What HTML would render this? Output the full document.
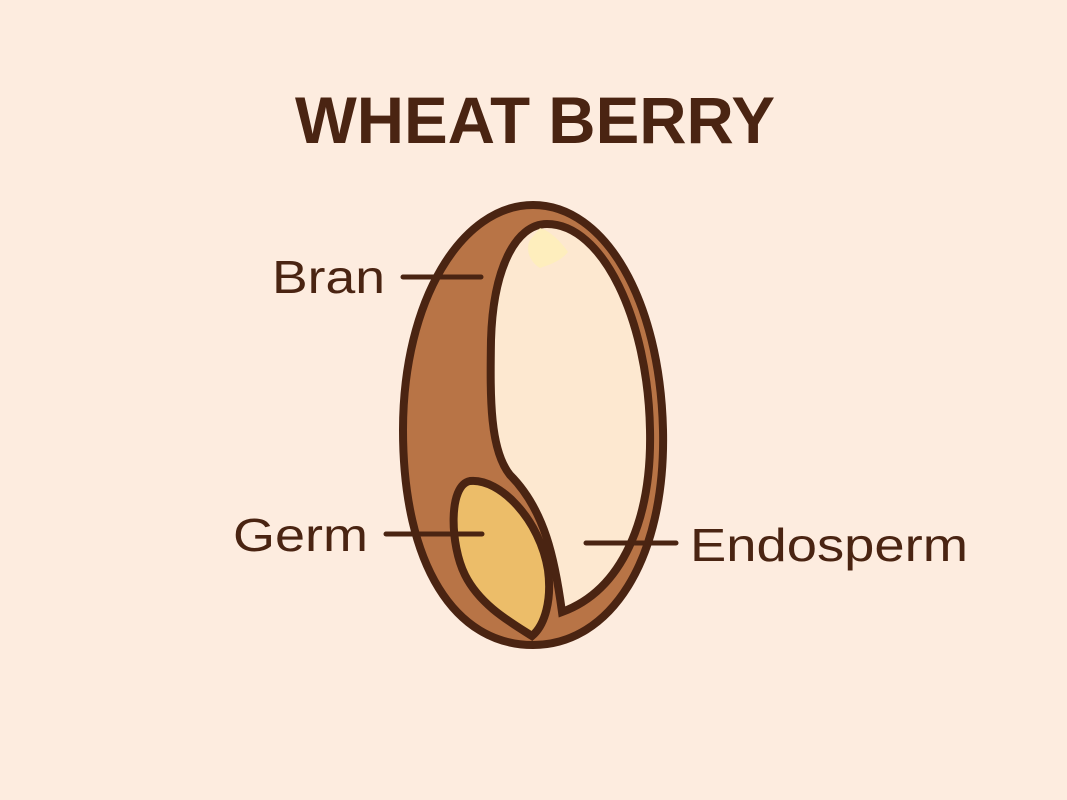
<!DOCTYPE html>
<html><head><style>
html,body{margin:0;padding:0;background:#fdecdf;}
svg{display:block}
</style></head><body>
<svg width="1067" height="800" viewBox="0 0 1067 800" xmlns="http://www.w3.org/2000/svg">
<rect width="1067" height="800" fill="#fdecdf"/>
<text x="295" y="143" textLength="480" lengthAdjust="spacingAndGlyphs" font-family="Liberation Sans, sans-serif" font-weight="bold" font-size="66" fill="#4a2412">WHEAT BERRY</text>
<path d="M533,205 C605,205 660,300 663,430 C666,560 610,645 533,645 C455,645 403,565 403,430 C403,300 462,205 533,205 Z" fill="#b87446" stroke="#4a2412" stroke-width="8"/>
<path d="M547,224 C603,224 648,320 650,430 C652,520 622,590 562,612 C555,560 545,510 510,475 C490,450 490,400 491,340 C493,270 515,224 547,224 Z" fill="#fde8d0" stroke="#4a2412" stroke-width="8"/>
<path d="M540,228 C548,230 560,240 568,252 C560,262 548,265 540,268 C530,262 525,250 530,240 Z" fill="#feefb8" opacity="0.8"/>
<path d="M470,481 C500,478 540,520 548,570 C552,600 545,625 532,636 C510,622 480,605 465,575 C450,545 448,485 470,481 Z" fill="#ecbd69" stroke="#4a2412" stroke-width="8"/>
<g stroke="#4a2412" stroke-width="5" stroke-linecap="round">
<line x1="403" y1="277" x2="481" y2="277"/>
<line x1="386" y1="534" x2="482" y2="534"/>
<line x1="586" y1="543" x2="676" y2="543"/>
</g>
<g font-family="Liberation Sans, sans-serif" font-size="46" fill="#4a2412">
<text x="272" y="293" textLength="113" lengthAdjust="spacingAndGlyphs">Bran</text>
<text x="233" y="551" textLength="135" lengthAdjust="spacingAndGlyphs">Germ</text>
<text x="690" y="561" textLength="278" lengthAdjust="spacingAndGlyphs">Endosperm</text>
</g>
</svg>
</body></html>
